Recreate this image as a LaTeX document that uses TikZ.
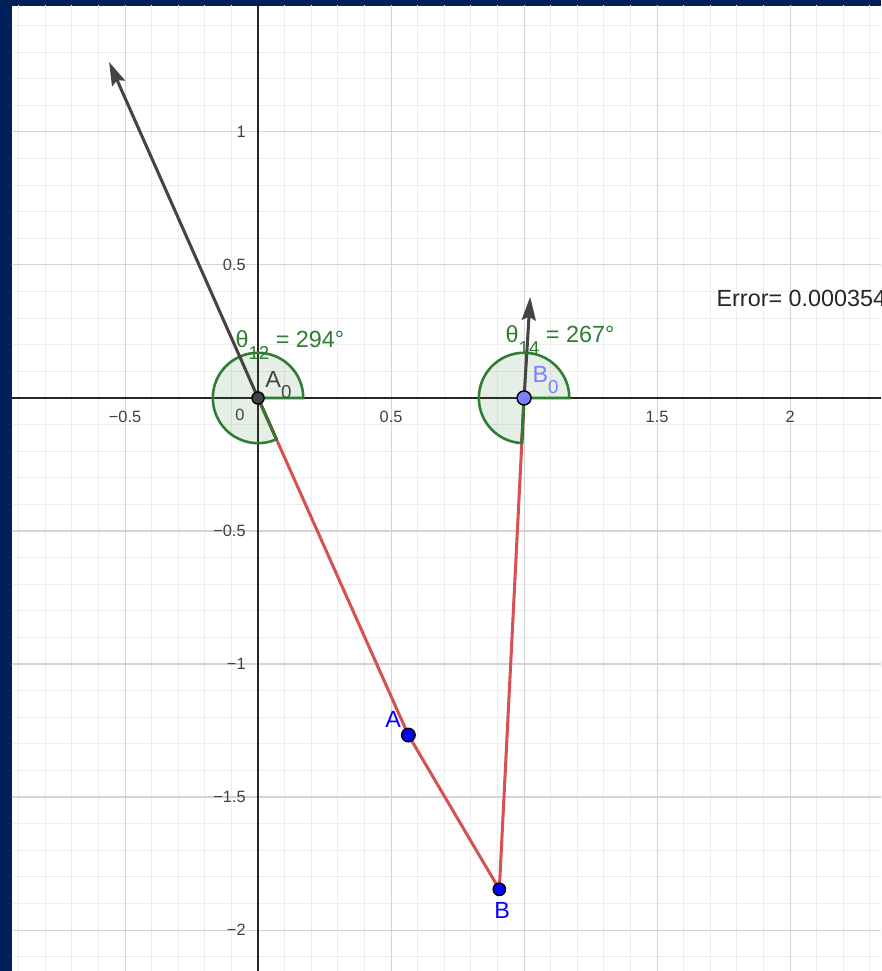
\documentclass[tikz,border=0pt]{standalone}
\usepackage{fontspec}
\setmainfont{Liberation Sans}
\usepackage{tikz}
\usetikzlibrary{arrows.meta}
\definecolor{frame}{RGB}{0,32,91}
\definecolor{ggred}{RGB}{214,82,82}
\definecolor{ggdark}{RGB}{150,40,30}
\definecolor{gggreen}{RGB}{46,125,50}
\definecolor{ggblue}{RGB}{0,0,255}
\definecolor{gglilac}{RGB}{125,125,255}
\definecolor{gggray}{RGB}{68,68,68}

\begin{document}
\begin{tikzpicture}[x=4cm,y=4cm,
  minor/.style={draw=black!7,line width=0.4pt},
  major/.style={draw=black!17,line width=0.45pt},
  axis/.style={draw=black!85,line width=0.6pt},
  link/.style={ggred,line width=1.3pt},
  linkdark/.style={ggdark,line width=1.3pt},
  vec/.style={gggray,line width=1.3pt,-{Stealth[length=10pt,width=6pt,inset=1.5pt]}},
  sector/.style={draw=gggreen,line width=1.1pt,fill=gggreen,fill opacity=0.12},
  pt/.style={circle,draw=black,line width=0.6pt,inner sep=0pt,minimum size=5.6pt},
  lbl/.style={font=\fontsize{10}{12}\selectfont,inner sep=0pt,anchor=base west},
  tick/.style={font=\fontsize{7}{8}\selectfont,text=black!75,inner sep=0pt}]
\useasboundingbox (-0.970,-2.154) rectangle (2.342,1.496);
\fill[frame] (-0.970,-2.154) rectangle (2.342,1.496);
\fill[white] (-0.925,-2.154) rectangle (2.342,1.475);
\begin{scope}
\clip (-0.925,-2.154) rectangle (2.342,1.475);
\foreach \i in {-9,...,23} \draw[minor] (\i/10,-2.154) -- (\i/10,1.496);
\foreach \j in {-21,...,14} \draw[minor] (-0.970,\j/10) -- (2.342,\j/10);
\foreach \x in {-0.5,0.5,1,1.5,2} \draw[major] (\x,-2.154) -- (\x,1.496);
\foreach \y in {-2,-1.5,-1,-0.5,0.5,1} \draw[major] (-0.970,\y) -- (2.342,\y);
\draw[axis] (-0.970,0) -- (2.342,0);
\draw[axis] (0,-2.154) -- (0,1.496);
\foreach \x/\t in {-0.5/−0.5,0.5/0.5,1.5/1.5,2/2} \node[tick] (xt\x) at (\x,-0.071) {\t};
\node[tick] (xt0) at (-0.068,-0.065) {0};
\foreach \y/\t in {1/1,0.5/0.5,-0.5/−0.5,-1/−1,-1.5/−1.5,-2/−2}
  \node[tick,anchor=east] (yt\y) at (-0.045,\y) {\t};

\coordinate (A0) at (0,0);
\coordinate (B0) at (1,0);
\coordinate (A) at (0.565,-1.267);
\coordinate (B) at (0.907,-1.847);
\coordinate (tipA) at (-0.560,1.263);
\coordinate (tipB) at (1.023,0.380);

\draw[link] (A0) -- (A) -- (B) -- (B0);
\begin{scope}
\clip (A0) circle[radius=0.17];
\draw[linkdark] (A0) -- (A);
\end{scope}
\begin{scope}
\clip (B0) circle[radius=0.17];
\draw[linkdark] (B0) -- (B);
\end{scope}
\draw[sector] (A0) -- ++(0:0.17) arc[start angle=0,end angle=294,radius=0.17] -- cycle;
\draw[sector] (B0) -- ++(0:0.17) arc[start angle=0,end angle=267,radius=0.17] -- cycle;
\draw[vec] (A0) -- (tipA);
\draw[vec] (B0) -- (tipB);

\node[pt,fill=gggray,minimum size=5.2pt] (A0pt) at (A0) {};
\node[pt,fill=gglilac,minimum size=6pt] (B0pt) at (B0) {};
\node[pt,fill=ggblue,minimum size=5.8pt] (Apt) at (A) {};
\node[pt,fill=ggblue,minimum size=5.3pt] (Bpt) at (B) {};

\node[lbl,text=gggreen] (th12) at (-0.0865,0.188) {θ\raisebox{-5pt}{\fontsize{8}{8}\selectfont 12} = 294°};
\node[lbl,text=gggreen] (th14) at (0.929,0.207) {θ\raisebox{-5pt}{\fontsize{8}{8}\selectfont 14} = 267°};
\node[lbl,text=gggray] (A0lbl) at (0.026,0.0376) {A\raisebox{-4.3pt}{\fontsize{8}{8}\selectfont 0}};
\node[lbl,text=gglilac] (B0lbl) at (1.030,0.0564) {B\raisebox{-4.3pt}{\fontsize{8}{8}\selectfont 0}};
\node[lbl,text=ggblue] (Albl) at (0.477,-1.237) {A};
\node[lbl,text=ggblue] (Blbl) at (0.887,-1.955) {B};
\node[lbl,text=black!85] (err) at (1.722,0.342) {Error= 0.000354};
\end{scope}
\end{tikzpicture}
\end{document}
